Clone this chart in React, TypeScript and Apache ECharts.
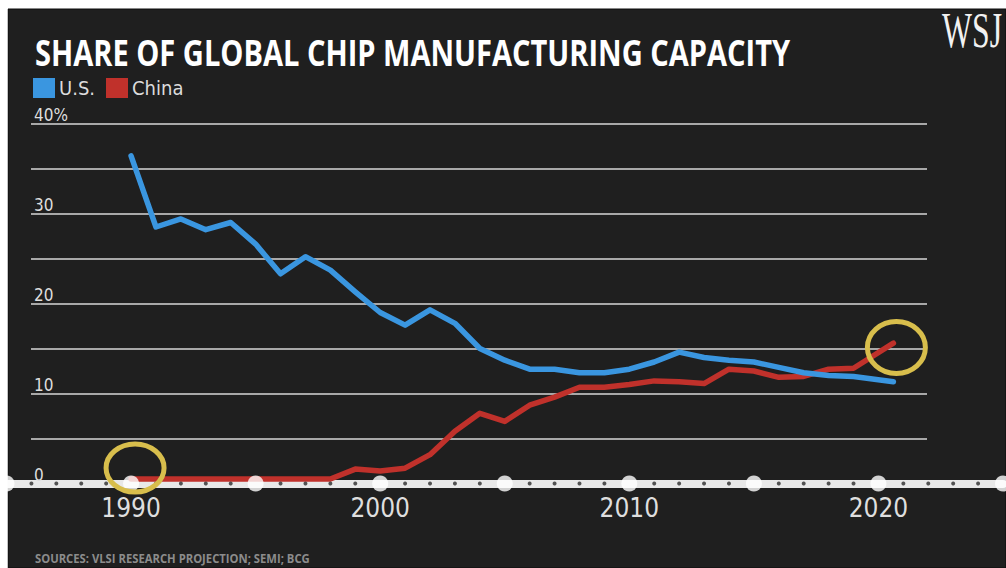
import React, { useEffect, useRef } from "react";
import * as echarts from "echarts";

const years = [1990, 1991, 1992, 1993, 1994, 1995, 1996, 1997, 1998, 1999, 2000, 2001, 2002, 2003, 2004, 2005, 2006, 2007, 2008, 2009, 2010, 2011, 2012, 2013, 2014, 2015, 2016, 2017, 2018, 2019, 2020.6];
const usShare = [36.4, 28.5, 29.4, 28.2, 29.0, 26.6, 23.3, 25.2, 23.7, 21.3, 19.0, 17.6, 19.3, 17.8, 15.0, 13.7, 12.7, 12.7, 12.3, 12.3, 12.7, 13.5, 14.6, 14.0, 13.7, 13.5, 12.9, 12.3, 12.0, 11.9, 11.3];
const chinaShare = [0.5, 0.5, 0.5, 0.5, 0.5, 0.5, 0.5, 0.5, 0.5, 1.6, 1.4, 1.7, 3.2, 5.8, 7.8, 6.9, 8.7, 9.6, 10.7, 10.7, 11.0, 11.4, 11.3, 11.1, 12.7, 12.5, 11.8, 11.9, 12.7, 12.8, 15.6];
const majorTicks = [1985, 1990, 1995, 2000, 2005, 2010, 2015, 2020, 2025];
const minorTicks = [1986, 1987, 1988, 1989, 1991, 1992, 1993, 1994, 1996, 1997, 1998, 1999, 2001, 2002, 2003, 2004, 2006, 2007, 2008, 2009, 2011, 2012, 2013, 2014, 2016, 2017, 2018, 2019, 2021, 2022, 2023, 2024];
const yTickLabels: Record<number, string> = { 0: "0", 10: "10", 20: "20", 30: "30", 40: "40%" };
const xTickLabels: Record<number, string> = { 1990: "1990", 2000: "2000", 2010: "2010", 2020: "2020" };

const TITLE = "SHARE OF GLOBAL CHIP MANUFACTURING CAPACITY";
const SOURCES = "SOURCES: VLSI RESEARCH PROJECTION; SEMI; BCG";
const LOGO = "WSJ";

const BLUE = "#3a96e0";
const RED = "#c0312b";
const YELLOW = "#d8be4c";
const PANEL = "#1f1f1f";

function measure(text: string, font: string): number {
  const c = document.createElement("canvas").getContext("2d");
  if (!c) return 1;
  c.font = font;
  return c.measureText(text).width || 1;
}

export default function App() {
  const ref = useRef<HTMLDivElement>(null);

  useEffect(() => {
    if (!ref.current) return;
    const chart = echarts.init(ref.current, null, { renderer: "svg" });

    const condensed = "'Liberation Sans Narrow', 'DejaVu Sans Condensed', Roboto, sans-serif";

    chart.setOption({
      animation: false,
      backgroundColor: "#ffffff",
      legend: {
        data: ["U.S.", "China"],
        left: 33,
        top: 78,
        padding: 0,
        icon: "rect",
        itemWidth: 22,
        itemHeight: 20,
        itemGap: 11,
        selectedMode: false,
        textStyle: { color: "#dcdcdc", fontSize: 20, fontFamily: condensed, padding: [0, 0, 0, -1] },
      },
      grid: [
        { left: 6.5, top: 123.5, width: 1000, height: 360 },
        { left: 31, top: 123.5, width: 896, height: 360 },
      ],
      xAxis: [
        {
          type: "value",
          gridIndex: 0,
          min: 1985,
          max: 2025,
          interval: 5,
          axisLine: { show: true, onZero: false, lineStyle: { color: "#e8e8e8", width: 8 } },
          axisTick: { show: false },
          splitLine: { show: false },
          axisLabel: {
            color: "#dedede",
            fontSize: 26,
            fontFamily: condensed,
            margin: 11,
            formatter: (v: number) => xTickLabels[v] || "",
          },
        },
        { type: "value", gridIndex: 1, min: 0, max: 1, show: false },
      ],
      yAxis: [
        { type: "value", gridIndex: 0, min: 0, max: 40, interval: 5, show: false },
        {
          type: "value",
          gridIndex: 1,
          min: 0,
          max: 40,
          interval: 5,
          axisLine: { show: false },
          axisTick: { show: false },
          splitLine: { show: true, showMinLine: false, lineStyle: { color: "#a8a8a8", width: 2 } },
          axisLabel: {
            inside: true,
            margin: 3,
            color: "#dedede",
            fontSize: 17,
            fontFamily: condensed,
            verticalAlign: "bottom",
            formatter: (v: number) => yTickLabels[v] || "",
          },
        },
      ],
      series: [
        {
          name: "China",
          type: "line",
          xAxisIndex: 0,
          yAxisIndex: 0,
          data: years.map((y, i) => [y, chinaShare[i]]),
          symbol: "none",
          z: 3,
          color: RED,
          lineStyle: { color: RED, width: 5.5, cap: "round", join: "round" },
        },
        {
          name: "U.S.",
          type: "line",
          xAxisIndex: 0,
          yAxisIndex: 0,
          data: years.map((y, i) => [y, usShare[i]]),
          symbol: "none",
          z: 4,
          color: BLUE,
          lineStyle: { color: BLUE, width: 5.5, cap: "round", join: "round" },
        },
        {
          name: "majorTicks",
          type: "scatter",
          xAxisIndex: 0,
          yAxisIndex: 0,
          clip: false,
          z: 5,
          symbol: "circle",
          symbolSize: 16,
          itemStyle: { color: "#ffffff" },
          data: majorTicks.map((y) => [y, 0]),
          silent: true,
        },
        {
          name: "minorTicks",
          type: "scatter",
          xAxisIndex: 0,
          yAxisIndex: 0,
          clip: false,
          z: 5,
          symbol: "circle",
          symbolSize: 4,
          itemStyle: { color: "#2a2a2a" },
          data: minorTicks.map((y) => [y, 0]),
          silent: true,
        },
      ],
    });

    const titleFont = "bold 35px 'Open Sans'";
    const titleScale = 755 / measure(TITLE, titleFont);
    const srcFont = "bold 13px 'Open Sans'";
    const srcScale = 275 / measure(SOURCES, srcFont);
    const logoFont = "51px 'Liberation Serif'";
    const logoScale = 60 / measure(LOGO, logoFont);

    const p1 = chart.convertToPixel({ xAxisIndex: 0, yAxisIndex: 0 }, [years[0], 0]) as number[];
    const last = years.length - 1;
    const p2 = chart.convertToPixel({ xAxisIndex: 0, yAxisIndex: 0 }, [years[last], chinaShare[last]]) as number[];

    chart.setOption({
      graphic: [
        {
          id: "panel",
          type: "rect",
          z: -10,
          zlevel: 0,
          silent: true,
          shape: { x: 8, y: 9, width: 998, height: 559 },
          style: { fill: PANEL, stroke: "#0d0d0d", lineWidth: 1 },
        },
        {
          id: "leftMargin",
          type: "rect",
          z: 100,
          silent: true,
          shape: { x: 0, y: 0, width: 7.5, height: 568 },
          style: { fill: "#ffffff" },
        },
        {
          id: "title",
          type: "text",
          x: 35,
          y: 52.5,
          scaleX: titleScale,
          style: { text: TITLE, fill: "#ffffff", font: titleFont, align: "left", verticalAlign: "middle" },
        },
        {
          id: "sources",
          type: "text",
          x: 35,
          y: 558,
          scaleX: srcScale,
          style: { text: SOURCES, fill: "#8c8c8c", font: srcFont, lineHeight: 14, align: "left", verticalAlign: "middle" },
        },
        {
          id: "logo",
          type: "text",
          x: 942,
          y: 30,
          scaleX: logoScale,
          style: { text: LOGO, fill: "#f2f2f2", font: logoFont, lineHeight: 38, align: "left", verticalAlign: "middle" },
        },
        {
          id: "ring1",
          type: "ellipse",
          z: 20,
          shape: { cx: p1[0] + 4, cy: p1[1] - 15.5, rx: 29, ry: 24 },
          style: { fill: "none", stroke: YELLOW, lineWidth: 5 },
        },
        {
          id: "ring2",
          type: "ellipse",
          z: 20,
          shape: { cx: p2[0] + 3, cy: p2[1] + 4.5, rx: 29, ry: 26 },
          style: { fill: "none", stroke: YELLOW, lineWidth: 5 },
        },
      ],
    });

    return () => chart.dispose();
  }, []);

  return (
    <div style={{ position: "absolute", left: 0, top: 0, width: 1006, height: 568, background: "#ffffff", overflow: "hidden" }}>
      <div ref={ref} style={{ position: "absolute", left: 0, top: 0, width: 1006, height: 568 }} />
    </div>
  );
}
